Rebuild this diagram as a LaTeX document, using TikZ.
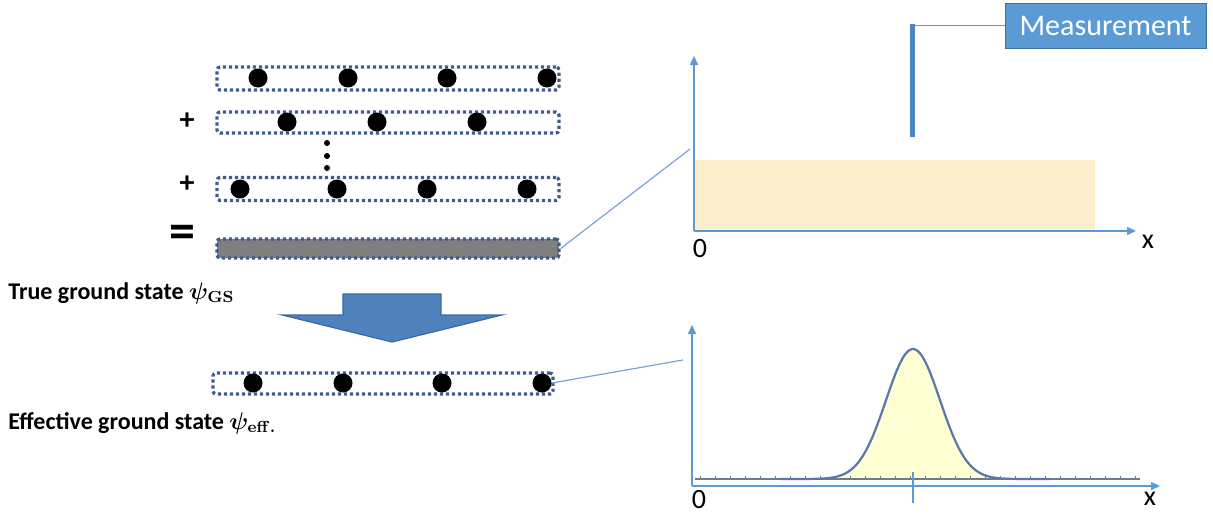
\documentclass[tikz,border=0pt]{standalone}
\usepackage{fontspec}
\setmainfont{Carlito}
\usetikzlibrary{arrows.meta}
\definecolor{boxblue}{HTML}{3F5C8C}
\definecolor{bargray}{HTML}{7F7F7F}
\definecolor{axisblue}{HTML}{5B9BD5}
\definecolor{linkblue}{HTML}{7FA1D4}
\definecolor{beige}{HTML}{FDEFCB}
\definecolor{gaussfill}{HTML}{FFFFD4}
\definecolor{gaussline}{HTML}{5B77A8}
\definecolor{basegray}{HTML}{6D7B8D}
\definecolor{arrowblue}{HTML}{4F81BD}
\definecolor{arrowedge}{HTML}{3C6AA5}
\definecolor{measblue}{HTML}{5B9BD5}
\definecolor{measedge}{HTML}{41719C}
\definecolor{barblue}{HTML}{4A86C5}
\begin{document}
\begin{tikzpicture}[x=0.5pt,y=-0.5pt,
  rowbox/.style={draw=boxblue, line width=1.6pt, dash pattern=on 1.6pt off 1.4pt,
    rounded corners=1.5pt, minimum width=171pt, minimum height=11.5pt, inner sep=0pt},
  ball/.style={circle, fill=black, minimum size=9.5pt, inner sep=0pt},
  smalldot/.style={circle, fill=black, minimum size=3pt, inner sep=0pt},
  axis/.style={draw=axisblue, line width=0.75pt, -{Triangle[length=4.5pt,width=4pt]}},
  link/.style={draw=linkblue, line width=0.6pt},
  lbl/.style={font=\fontsize{12}{14}\selectfont\bfseries\boldmath, anchor=base west, inner sep=0pt},
  axlbl/.style={font=\fontsize{14}{16}\selectfont, inner sep=0pt},
  signtxt/.style={inner sep=0pt}
]
\useasboundingbox (0,0) rectangle (1213,514);

% rows
\node[rowbox] (r1) at (388,78.5) {};
\node[rowbox, minimum height=10.5pt] (r2) at (388,122.5) {};
\node[rowbox] (r3) at (388,189) {};
\node[rowbox, fill=bargray, minimum height=9.5pt] (gs) at (388,248.5) {};
\node[rowbox, minimum width=170pt, minimum height=10.5pt] (eff) at (383,383.5) {};

\foreach \x [count=\i] in {258,348,447,547} \node[ball] (b1\i) at (\x,78) {};
\foreach \x [count=\i] in {287,377,477} \node[ball] (b2\i) at (\x,122) {};
\foreach \x [count=\i] in {240,337,427,527} \node[ball] (b3\i) at (\x,189) {};
\foreach \x [count=\i] in {253,343,442,542} \node[ball] (b4\i) at (\x,383) {};

\foreach \y [count=\i] in {143,156,168} \node[smalldot] (vd\i) at (327,\y) {};

\node[signtxt, font=\fontsize{15}{17}\selectfont\bfseries] (p1) at (187,121) {+};
\node[signtxt, font=\fontsize{15}{17}\selectfont\bfseries] (p2) at (187,184) {+};
\node[signtxt, font=\fontsize{26}{28}\selectfont\bfseries] (eqs) at (182,237) {=};

% labels
\node[lbl] (tgs) at (8,299) {True ground state $\psi_{\mathbf{GS}}$};
\node[lbl] (egs) at (8,429) {Effective ground state $\psi_{\mathbf{eff.}}$};

% big arrow
\draw[fill=arrowblue, draw=arrowedge, line width=0.6pt]
  (343,294) -- (441,294) -- (441,315) -- (502,315) -- (392,342) -- (282,315) -- (343,315) -- cycle;

% top plot
\fill[beige] (695,160) rectangle (1095,231);
\coordinate (o1) at (694,231);
\coordinate (y1) at (694,56);
\coordinate (x1) at (1136,231);
\draw[axis] (o1) -- (y1);
\draw[axis] (o1) -- (x1);
\node[axlbl] (zero1) at (700,249) {0};
\node[axlbl] (xl1) at (1148,242) {x};

% measurement
\node[fill=measblue, draw=measedge, line width=0.5pt, minimum width=100.5pt, minimum height=22.5pt,
  inner sep=0pt, text=white, font=\fontsize{15}{18}\selectfont] (meas) at (1105.5,25.5) {Measurement};
\coordinate (mtop) at (912,25.5);
\coordinate (mbot) at (912,137);
\draw[draw=axisblue, line width=0.6pt] (meas.west) -- (mtop);
\draw[draw=barblue, line width=2.5pt] ([yshift=0.6pt]mtop) -- (mbot);

% links
\coordinate (c1) at (690,149);
\draw[link] (gs.east) -- (c1);
\coordinate (c2) at (683,360);
\draw[link] (b44.east) -- (c2);

% bottom plot
\fill[gaussfill] plot[domain=790:1040, samples=120] (\x, {479-130*exp(-((\x-913)/27)^2/2)}) -- cycle;
\draw[basegray, line width=0.8pt] (695,479) -- (1140,479);
\foreach \t in {0,...,29} \draw[basegray, line width=0.5pt] (700+15*\t,479) -- ++(0,-3.5);
\draw[gaussline, line width=1.1pt] plot[domain=780:1050, samples=140] (\x, {479-130*exp(-((\x-913)/27)^2/2)});
\draw[axisblue, line width=0.6pt] (913,472) -- (913,503);
\coordinate (o2) at (692,486);
\coordinate (y2) at (692,325);
\coordinate (x2) at (1160,486);
\draw[axis] (o2) -- (y2);
\draw[axis] (o2) -- (x2);
\node[axlbl] (zero2) at (699,500) {0};
\node[axlbl] (xl2) at (1150,499) {x};
\end{tikzpicture}
\end{document}
